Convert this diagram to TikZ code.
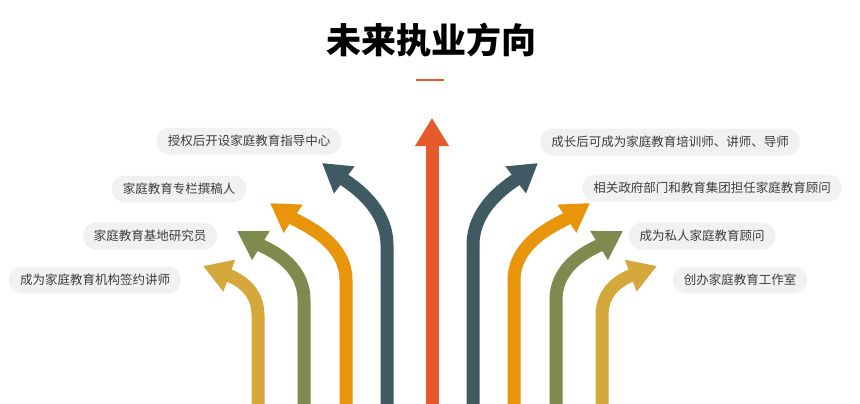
\documentclass[tikz,border=0pt]{standalone}
\usepackage{fontspec}
\setmainfont{Noto Sans CJK SC}
\usetikzlibrary{arrows.meta}
\definecolor{tealA}{RGB}{63,90,99}
\definecolor{redA}{RGB}{229,90,43}
\definecolor{orangeA}{RGB}{232,149,12}
\definecolor{oliveA}{RGB}{127,138,79}
\definecolor{yellowA}{RGB}{212,168,58}
\definecolor{pill}{RGB}{241,241,241}
\definecolor{txt}{RGB}{60,60,60}
\tikzset{
  arw/.style={line width=13pt,-{Triangle[width=32pt,length=28pt]}},
  tag/.style={fill=pill,rounded corners=13pt,minimum height=27pt,inner xsep=11pt,text=txt,font=\fontsize{12.5pt}{14pt}\selectfont}
}
\begin{document}
\begin{tikzpicture}[x=1pt,y=-1pt]
\useasboundingbox[fill=white] (0,0) rectangle (860,404);
% title
\node[font=\fontsize{35pt}{38pt}\selectfont\bfseries] (title) at (431,40) {未来执业方向};
\draw[redA,line width=2.5pt] (416,80) -- (444,80);
% arrows left
\draw[arw,yellowA] (258,404) -- (258,315) .. controls (258,285) and (230,276) .. (203,266);
\draw[arw,oliveA] (304,404) -- (304,300) .. controls (304,262) and (265,248) .. (237,231);
\draw[arw,orangeA] (346,404) -- (346,280) .. controls (346,240) and (298,222) .. (270,203);
\draw[arw,tealA] (387,404) -- (387,245) .. controls (387,205) and (347,182) .. (322,163);
% arrows right
\draw[arw,yellowA] (602,404) -- (602,315) .. controls (602,285) and (630,276) .. (657,266);
\draw[arw,oliveA] (556,404) -- (556,300) .. controls (556,262) and (595,248) .. (623,231);
\draw[arw,orangeA] (514,404) -- (514,280) .. controls (514,240) and (562,222) .. (590,203);
\draw[arw,tealA] (473,404) -- (473,245) .. controls (473,205) and (513,182) .. (538,163);
% center
\draw[arw,redA] (432,404) -- (432,118);
% labels
\node[tag] (l1) at (249,141) {授权后开设家庭教育指导中心};
\node[tag] (l2) at (179,189) {家庭教育专栏撰稿人};
\node[tag] (l3) at (150,236) {家庭教育基地研究员};
\node[tag] (l4) at (95,280) {成为家庭教育机构签约讲师};
\node[tag] (r1) at (670,142) {成长后可成为家庭教育培训师、讲师、导师};
\node[tag] (r2) at (712,188) {相关政府部门和教育集团担任家庭教育顾问};
\node[tag] (r3) at (702,236) {成为私人家庭教育顾问};
\node[tag] (r4) at (740,280) {创办家庭教育工作室};
\end{tikzpicture}
\end{document}
